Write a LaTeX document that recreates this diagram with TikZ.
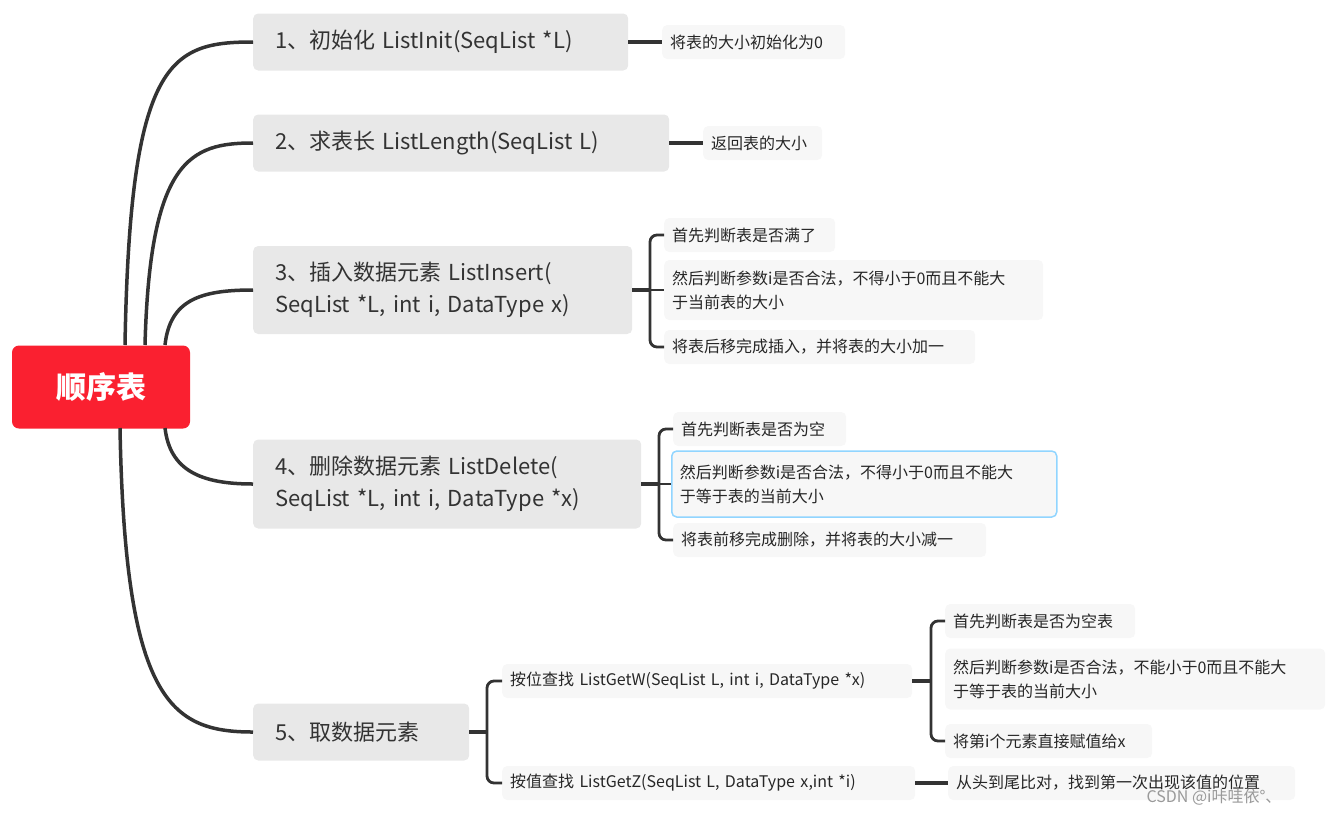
\documentclass[tikz,border=0pt]{standalone}
\usepackage{fontspec}
\setmainfont{Noto Sans CJK SC}
\begin{document}
\begin{tikzpicture}[x=1pt,y=-1pt,
  br/.style={fill=black!9,rounded corners=5,anchor=west,inner xsep=22,inner ysep=0,minimum height=57,align=left,font=\fontsize{22}{32}\selectfont,text=black!80,text width=\dimexpr#1pt-44pt\relax},
  lf/.style={fill=black!3,rounded corners=5,anchor=west,inner xsep=8,inner ysep=0,minimum height=34,align=left,font=\fontsize{16}{24}\selectfont,text=black!85,text width=\dimexpr#1pt-16pt\relax},
  ln/.style={draw=black!80,line width=3.5pt},
  sl/.style={draw=black!80,line width=2.8pt,rounded corners=7}]
\useasboundingbox (0,0) rectangle (1335,815);
\node[fill={rgb,255:red,250;green,32;blue,48},rounded corners=7,minimum width=178,minimum height=83,text=white,font=\fontsize{30}{36}\selectfont\bfseries] (root) at (101,387) {顺序表};
\node[br=375] (b1) at (253,42) {1、初始化 ListInit(SeqList *L)};
\node[br=416] (b2) at (253,143) {2、求表长 ListLength(SeqList L)};
\node[br=379,minimum height=88] (b3) at (253,290) {3、插入数据元素 ListInsert(\\SeqList *L, int i, DataType x)};
\node[br=388,minimum height=89] (b4) at (253,484) {4、删除数据元素 ListDelete(\\SeqList *L, int i, DataType *x)};
\node[br=216] (b5) at (253,732) {5、取数据元素};
% root connectors
\draw[ln] (125,345) .. controls (130,60) and (170,42) .. (b1.west);
\draw[ln] (145,345) .. controls (150,160) and (190,143) .. (b2.west);
\draw[ln] (165,345) .. controls (170,300) and (200,290) .. (b3.west);
\draw[ln] (165,428) .. controls (170,470) and (200,484) .. (b4.west);
\draw[ln] (120,428) .. controls (125,700) and (170,732) .. (b5.west);
% leaves
\node[lf=183] (l1) at (662,42) {将表的大小初始化为0};
\draw[ln] (b1.east) -- (l1.west);
\node[lf=119] (l2) at (703,143) {返回表的大小};
\draw[ln] (b2.east) -- (l2.west);
\node[lf=171] (l31) at (664,235) {首先判断表是否满了};
\node[lf=379,minimum height=60] (l32) at (664,290) {然后判断参数i是否合法，不得小于0而且不能大\\于当前表的大小};
\node[lf=311] (l33) at (664,347) {将表后移完成插入，并将表的大小加一};
\coordinate (j3) at (650,290);
\draw[ln] (b3.east) -- (j3);
\draw[sl] (l31.west) -| (j3) |- (l33.west);
\draw[sl] (j3) -- (l32.west);
\node[lf=173] (l41) at (673,429) {首先判断表是否为空};
\node[lf=385,minimum height=66,draw={rgb,255:red,145;green,213;blue,255},line width=1.5pt] (l42) at (671,484) {然后判断参数i是否合法，不得小于0而且不能大\\于等于表的当前大小};
\node[lf=313] (l43) at (673,540) {将表前移完成删除，并将表的大小减一};
\coordinate (j4) at (659,484);
\draw[ln] (b4.east) -- (j4);
\draw[sl] (l41.west) -| (j4) |- (l43.west);
\draw[sl] (j4) -- (l42.west);
\node[lf=410] (s1) at (502,681) {按位查找 ListGetW(SeqList L, int i, DataType *x)};
\node[lf=413] (s2) at (502,783) {按值查找 ListGetZ(SeqList L, DataType x,int *i)};
\coordinate (j5) at (487,732);
\draw[ln] (b5.east) -- (j5);
\draw[sl] (s1.west) -| (j5) |- (s2.west);
\node[lf=190] (t1) at (945,621) {首先判断表是否为空表};
\node[lf=380,minimum height=61] (t2) at (945,679) {然后判断参数i是否合法，不能小于0而且不能大\\于等于表的当前大小};
\node[lf=207] (t3) at (945,741) {将第i个元素直接赋值给x};
\coordinate (j6) at (931,681);
\draw[ln] (s1.east) -- (j6);
\draw[sl] (t1.west) -| (j6) |- (t3.west);
\node[lf=347] (t4) at (948,783) {从头到尾比对，找到第一次出现该值的位置};
\draw[ln] (s2.east) -- (t4.west);
\node[anchor=west,text=black!40,font=\fontsize{16}{20}\selectfont] (wm) at (1143,797) {CSDN @i咔哇依°、};
\end{tikzpicture}
\end{document}
